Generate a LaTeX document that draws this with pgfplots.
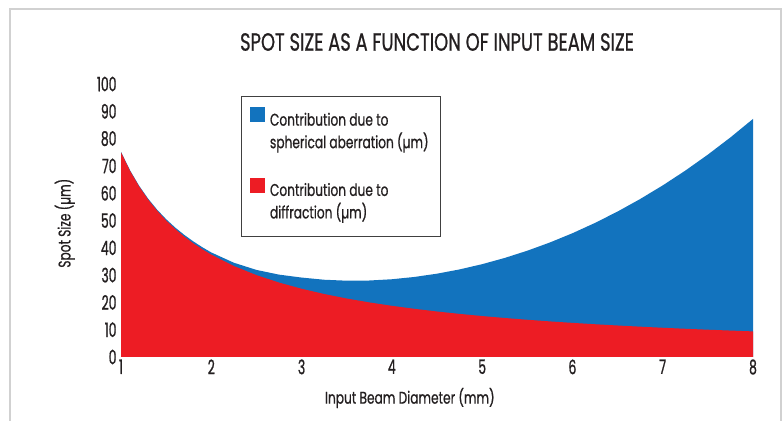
\documentclass[border=0pt]{standalone}
\usepackage{pgfplots}
\pgfplotsset{compat=1.18}
\usepackage{fontspec}
\setmainfont[FakeStretch=0.72,FakeBold=0.7]{Poppins}
\newfontfamily\tickfont[FakeStretch=0.62,FakeBold=0.9]{Poppins}
\definecolor{sablue}{HTML}{1273BE}
\definecolor{difred}{HTML}{ED1C24}
\definecolor{txt}{HTML}{231F20}
\begin{document}
\begin{tikzpicture}
\path[use as bounding box] (0bp,0bp) rectangle (784bp,421bp);
\draw[color=black!18, line width=2bp] (10bp,-2bp) -- (10bp,412bp) -- (781bp,412bp) -- (781bp,-2bp);
\begin{axis}[at={(121bp,64bp)}, anchor=south west, scale only axis,
  width=632bp, height=273bp,
  xmin=1, xmax=8, ymin=0, ymax=100,
  axis line style={draw=none}, tick style={draw=none},
  xtick={1,...,8}, ytick={0,10,...,100},
  /pgf/number format/assume math mode=true,
  ticklabel style={font=\tickfont\fontsize{20}{22}\selectfont, text=txt},
  yticklabel style={xshift=-1bp},
  xticklabel style={yshift=1bp},
  xlabel={Input Beam Diameter (mm)},
  ylabel={Spot Size (µm)},
  label style={font=\fontsize{17}{20}\selectfont, text=txt},
  xlabel style={at={(axis description cs:0.457,-0.150)}, anchor=center},
  ylabel style={at={(axis description cs:-0.089,0.49)}, anchor=center},
  title={SPOT SIZE AS A FUNCTION OF INPUT BEAM SIZE},
  title style={at={(axis description cs:0.5,1.132)}, anchor=center, font=\fontsize{25}{28}\selectfont, text=txt},
  legend style={at={(axis description cs:0.19,0.956)}, anchor=north west,
    draw=black!75, line width=0.8bp, inner xsep=9bp, inner ysep=11bp,
    font=\fontsize{17}{20}\selectfont, text=txt,
    nodes={text height=13bp, text depth=4.5bp, inner sep=2.5bp},
    row sep=0bp, column sep=2bp},
  legend cell align=left,
  legend image code/.code={\fill[#1] (0bp,-1bp) rectangle (15bp,14bp);},
]
\addplot[fill=sablue, draw=none] coordinates {
(1,75.15) (1.1,68.38) (1.2,62.76) (1.3,58.02) (1.4,53.97) (1.5,50.48) (1.6,47.44) (1.7,44.75)
(1.8,42.37) (1.9,40.22) (2,38.30) (2.25,34.53) (2.5,31.90) (2.75,30.17)
(3,29.10) (3.25,28.30) (3.5,27.95) (3.75,28.02) (4,28.48) (4.25,29.32) (4.5,30.52) (4.75,32.08)
(5,34.00) (5.25,36.28) (5.5,38.93) (5.75,41.94) (6,45.33) (6.25,49.11) (6.5,53.28) (6.75,57.86)
(7,62.85) (7.25,68.26) (7.5,74.13) (7.75,80.43) (8,87.20)} \closedcycle;
\addlegendentry{Contribution due to}
\addlegendimage{empty legend}
\addlegendentry{spherical aberration (µm)}
\addlegendimage{empty legend}
\addlegendentry{}
\addplot[fill=difred, draw=none] coordinates {
(1,75.0) (1.1,68.18) (1.2,62.5) (1.3,57.69) (1.4,53.57) (1.5,50.0) (1.6,46.88) (1.7,44.12)
(1.8,41.67) (1.9,39.47) (2,37.5) (2.25,33.33) (2.5,30.0) (2.75,27.27)
(3,25.0) (3.25,23.08) (3.5,21.43) (3.75,20.0) (4,18.75) (4.25,17.65) (4.5,16.67) (4.75,15.79)
(5,15.0) (5.25,14.29) (5.5,13.64) (5.75,13.04) (6,12.5) (6.25,12.0) (6.5,11.54) (6.75,11.11)
(7,10.71) (7.25,10.34) (7.5,10.0) (7.75,9.68) (8,9.38)} \closedcycle;
\addlegendentry{Contribution due to}
\addlegendimage{empty legend}
\addlegendentry{diffraction (µm)}
\end{axis}
\end{tikzpicture}
\end{document}
